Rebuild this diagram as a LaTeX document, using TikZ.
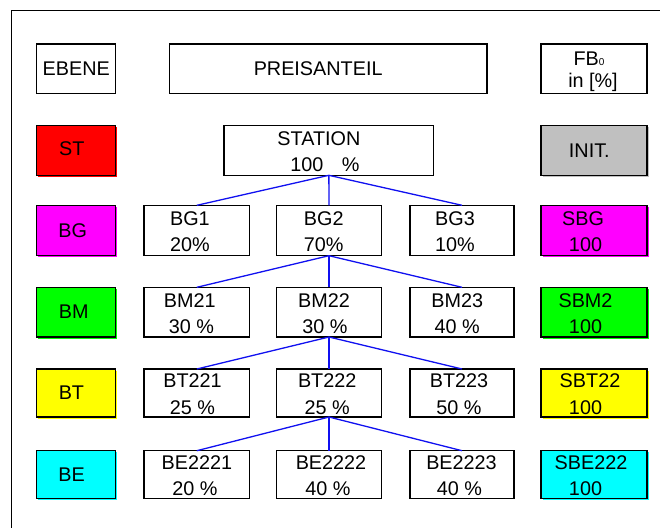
\documentclass[tikz,border=0pt]{standalone}
\usepackage{fontspec}
\setmainfont{Liberation Sans}
\definecolor{stred}{HTML}{FF0000}
\definecolor{bgmag}{HTML}{FF00FF}
\definecolor{bmgreen}{HTML}{00FF00}
\definecolor{btyellow}{HTML}{FFFF00}
\definecolor{becyan}{HTML}{00FFFF}
\definecolor{initgray}{HTML}{C0C0C0}
\definecolor{linkblue}{HTML}{1010F0}
\begin{document}
\begin{tikzpicture}[x=1pt,y=-1pt,
  font=\fontsize{19.8}{26.3}\selectfont,
  cell/.style 2 args={draw=black, line width=1.25pt, minimum width=#1,
    minimum height=#2, anchor=north west, inner sep=0pt, outer sep=0pt},
  tinted/.style={fill=#1, preaction={fill=#1,
    transform canvas={shift={(1.6pt,-1.5pt)}}}},
  lbl/.style={inner sep=0pt, align=center},
  lbltwo/.style={inner sep=0pt, align=center, yshift=-1.2pt},
  link/.style={draw=linkblue, line width=1.3pt},
  frame/.style={draw=black, line width=1.4pt}]
\useasboundingbox (0,0) rectangle (660,527);

% outer frame (only its top and left sides fall inside the page)
\coordinate (fbl) at (11.3,540);
\coordinate (ftl) at (11.3,10.7);
\coordinate (ftr) at (680,10.7);
\draw[frame] (fbl) -- (ftl) -- (ftr);

% header row
\node[cell={79pt}{49.7pt}, label={[lbl]center:EBENE}] (ebene) at (36.7,44) {};
\node[cell={317.7pt}{49.7pt}, label={[lbl,xshift=-10pt]center:PREISANTEIL}] (preis) at (169.3,44) {};
\node[cell={106pt}{49.7pt},
  label={[lbl,xshift=-1pt,yshift=-2.5pt,font=\fontsize{19.8}{22}\selectfont]center:{FB{\fontsize{10}{10}\selectfont 0}\makebox[8pt]{}\\in [\%]}}] (fb) at (541,44) {};

% station row
\node[cell={79pt}{49.6pt}, tinted=stred, label={[lbl,xshift=-4.5pt,yshift=1.5pt]center:ST}] (st) at (36.7,125.7) {};
\node[cell={209.7pt}{49.6pt},
  label={[lbltwo,xshift=-4pt]center:{STATION\makebox[12pt]{}\\100\hspace{18.5pt}\%}}] (station) at (224,125.7) {};
\node[cell={106pt}{49.6pt}, tinted=initgray, label={[lbl,xshift=-4.7pt]center:INIT.}] (init) at (541,125.7) {};

% BG row
\node[cell={79pt}{50.4pt}, tinted=bgmag, label={[lbl,xshift=-3.5pt]center:BG}] (bg) at (36.7,205.3) {};
\node[cell={105.7pt}{50.4pt}, label={[lbltwo,xshift=-7pt]center:{BG1\\20\%}}] (bg1) at (144,205.3) {};
\node[cell={104.6pt}{50.4pt}, label={[lbltwo,xshift=-5.3pt]center:{BG2\\70\%}}] (bg2) at (276.7,205.3) {};
\node[cell={104pt}{50.4pt}, label={[lbltwo,xshift=-7pt]center:{BG3\\10\%}}] (bg3) at (410,205.3) {};
\node[cell={106pt}{50.4pt}, tinted=bgmag,
  label={[lbltwo,xshift=-8.5pt]center:{SBG\makebox[5pt]{}\\100}}] (sbg) at (541,205.3) {};

% BM row
\node[cell={79pt}{49.7pt}, tinted=bmgreen, label={[lbl,xshift=-2.5pt]center:BM}] (bm) at (36.7,287.3) {};
\node[cell={105.7pt}{49.7pt}, label={[lbltwo,xshift=-5.5pt]center:{BM21\makebox[3pt]{}\\30 \%}}] (bm21) at (144,287.3) {};
\node[cell={104.6pt}{49.7pt}, label={[lbltwo,xshift=-4pt]center:{BM22\makebox[2pt]{}\\30 \%}}] (bm22) at (276.7,287.3) {};
\node[cell={104pt}{49.7pt}, label={[lbltwo,xshift=-4.8pt]center:{BM23\\40 \%}}] (bm23) at (410,287.3) {};
\node[cell={106pt}{49.7pt}, tinted=bmgreen,
  label={[lbltwo,xshift=-8.5pt]center:{SBM2\\100}}] (sbm) at (541,287.3) {};

% BT row
\node[cell={79pt}{48pt}, tinted=btyellow, label={[lbl,xshift=-4.8pt]center:BT}] (bt) at (36.7,369) {};
\node[cell={105.7pt}{48pt}, label={[lbltwo,xshift=-4.3pt]center:{BT221\\25 \%}}] (bt221) at (144,369) {};
\node[cell={104.6pt}{48pt}, label={[lbltwo,xshift=-1.8pt]center:{BT222\\25 \%}}] (bt222) at (276.7,369) {};
\node[cell={104pt}{48pt}, label={[lbltwo,xshift=-3pt]center:{BT223\\50 \%}}] (bt223) at (410,369) {};
\node[cell={106pt}{48pt}, tinted=btyellow,
  label={[lbltwo,xshift=-8.5pt]center:{\makebox[9pt]{}SBT22\\100}}] (sbt) at (541,369) {};

% BE row
\node[cell={79pt}{48pt}, tinted=becyan, label={[lbl,xshift=-4.5pt]center:BE}] (be) at (36.7,450.7) {};
\node[cell={105.7pt}{48pt}, label={[lbltwo,xshift=-2pt]center:{\makebox[4pt]{}BE2221\\20 \%}}] (be2221) at (144,450.7) {};
\node[cell={104.6pt}{48pt}, label={[lbltwo,xshift=-1pt]center:{\makebox[6pt]{}BE2222\\40 \%}}] (be2222) at (276.7,450.7) {};
\node[cell={104pt}{48pt}, label={[lbltwo,xshift=-2.5pt]center:{\makebox[4pt]{}BE2223\\40 \%}}] (be2223) at (410,450.7) {};
\node[cell={106pt}{48pt}, tinted=becyan,
  label={[lbltwo,xshift=-8.5pt]center:{\makebox[11pt]{}SBE222\\100}}] (sbe) at (541,450.7) {};

% tree connectors
\foreach \child in {bg1,bg2,bg3} \path[link] (station.south) -- (\child.north);
\foreach \child in {bm21,bm22,bm23} \path[link] (bg2.south) -- (\child.north);
\foreach \child in {bt221,bt222,bt223} \path[link] (bm22.south) -- (\child.north);
\foreach \child in {be2221,be2222,be2223} \path[link] (bt222.south) -- (\child.north);
\end{tikzpicture}
\end{document}
